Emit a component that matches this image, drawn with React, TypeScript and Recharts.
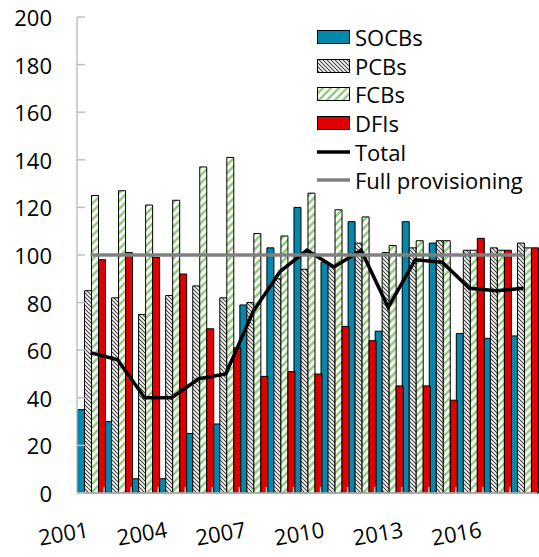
import {
  ComposedChart,
  Bar,
  Line,
  XAxis,
  YAxis,
  Legend,
} from "recharts";

const years = [
  "2001", "2002", "2003", "2004", "2005", "2006", "2007", "2008", "2009",
  "2010", "2011", "2012", "2013", "2014", "2015", "2016", "2017",
];
const socbs = [35, 30, 6, 6, 25, 29, 79, 103, 120, 97, 114, 68, 114, 105, 67, 65, 66];
const pcbs = [85, 82, 75, 83, 87, 82, 80, 90, 94, 95, 105, 101, 103, 106, 102, 103, 105];
const fcbs = [125, 127, 121, 123, 137, 141, 109, 108, 126, 119, 116, 104, 106, 106, 102, 102, 103];
const dfis = [98, 101, 99, 92, 69, 61, 49, 51, 50, 70, 64, 45, 45, 39, 107, 102, 103];
const total = [59, 56, 40, 40, 48, 50, 76, 93, 102, 95, 102, 78, 98, 97, 86, 85, 86];
const fullProvisioning = [100, 100, 100, 100, 100, 100, 100, 100, 100, 100, 100, 100, 100, 100, 100, 100, 100];

const yTicks = [0, 20, 40, 60, 80, 100, 120, 140, 160, 180, 200];
const xLabels = ["2001", "2004", "2007", "2010", "2013", "2016"];

const data = years.map((year, i) => ({
  year,
  socbs: socbs[i],
  pcbs: pcbs[i],
  fcbs: fcbs[i],
  dfis: dfis[i],
  total: total[i],
  full: fullProvisioning[i],
}));

const FONT = "'Open Sans', 'Noto Sans', sans-serif";
const AXIS_GRAY = "#bfbfbf";

const legendItems = [
  { label: "SOCBs", kind: "rect", fill: "#0088ad" },
  { label: "PCBs", kind: "rect", fill: "url(#pcbHatch)" },
  { label: "FCBs", kind: "rect", fill: "url(#fcbHatch)" },
  { label: "DFIs", kind: "rect", fill: "#e00000" },
  { label: "Total", kind: "line", fill: "#000000" },
  { label: "Full provisioning", kind: "line", fill: "#808080" },
];

function renderLegend() {
  return (
    <div style={{ fontFamily: FONT, fontSize: 22, color: "#000" }}>
      {legendItems.map((item) => (
        <div
          key={item.label}
          style={{ display: "flex", alignItems: "center", height: 28.6 }}
        >
          <svg width={36} height={16} style={{ marginRight: 2 }}>
            {item.kind === "rect" ? (
              <rect x={0.5} y={1.5} width={32} height={13} fill={item.fill} stroke="#000" strokeWidth={1} />
            ) : (
              <line x1={0} y1={8} x2={33} y2={8} stroke={item.fill} strokeWidth={3.5} />
            )}
          </svg>
          <span style={{ whiteSpace: "nowrap", lineHeight: 1 }}>{item.label}</span>
        </div>
      ))}
    </div>
  );
}

function YTick(props: any) {
  const { x, y, payload } = props;
  return (
    <g>
      <line x1={x} y1={y} x2={x + 8} y2={y} stroke={AXIS_GRAY} strokeWidth={1.5} />
      <text x={x - 25} y={y} textAnchor="end" dominantBaseline="central" fontSize={22} fontFamily={FONT} fill="#000">
        {payload.value}
      </text>
    </g>
  );
}

function XTick(props: any) {
  const { x, y, payload, index } = props;
  const half = payload.offset ?? 0;
  const showLabel = xLabels.includes(payload.value);
  const lx = x - 1 - 0.85 * index;
  const ly = y + 44;
  return (
    <g>
      {index > 0 && half > 0 ? (
        <line x1={x - half} y1={y} x2={x - half} y2={y - 6} stroke={AXIS_GRAY} strokeWidth={1.5} />
      ) : null}
      {showLabel ? (
        <text
          x={0}
          y={0}
          textAnchor="end"
          fontSize={22}
          fontFamily={FONT}
          fill="#000"
          style={{ transform: `translate(${lx}px, ${ly}px) rotate(-10deg)` }}
        >
          {payload.value}
        </text>
      ) : null}
    </g>
  );
}

export default function App() {
  return (
    <div style={{ position: "absolute", left: 0, top: 0, width: 539, height: 557, background: "#fff" }}>
      <ComposedChart
        width={539}
        height={557}
        data={data}
        margin={{ top: 17, right: 2, left: 0, bottom: 0 }}
        barGap={0}
        barCategoryGap={0.5}
        style={{ fontFamily: FONT }}
      >
        <defs>
          <pattern id="pcbHatch" patternUnits="userSpaceOnUse" width={4} height={4}>
            <rect width={4} height={4} fill="#ffffff" />
            <path d="M-1,-1 L5,5 M-1,3 L1,5 M3,-1 L5,1" stroke="#404040" strokeWidth={1.1} />
          </pattern>
          <pattern id="fcbHatch" patternUnits="userSpaceOnUse" width={8} height={8}>
            <rect width={8} height={8} fill="#ffffff" />
            <path d="M-2,10 L10,-2 M-6,6 L6,-6 M2,14 L14,2" stroke="#93cc80" strokeWidth={2.6} />
          </pattern>
        </defs>

        <XAxis
          dataKey="year"
          interval={0}
          height={64}
          tickSize={0}
          tickMargin={0}
          tickLine={false}
          axisLine={{ stroke: AXIS_GRAY, strokeWidth: 1.5 }}
          tick={(p: any) => <XTick {...p} />}
        />
        <XAxis
          xAxisId="top"
          dataKey="year"
          orientation="top"
          height={0}
          tick={false}
          tickLine={false}
          axisLine={{ stroke: AXIS_GRAY, strokeWidth: 1.5 }}
        />
        <YAxis
          domain={[0, 200]}
          ticks={yTicks}
          width={77}
          tickSize={0}
          tickMargin={0}
          tickLine={false}
          axisLine={{ stroke: AXIS_GRAY, strokeWidth: 1.5 }}
          tick={(p: any) => <YTick {...p} />}
        />
        <YAxis
          yAxisId="right"
          orientation="right"
          domain={[0, 200]}
          width={0}
          tick={false}
          tickLine={false}
          axisLine={{ stroke: AXIS_GRAY, strokeWidth: 1.5 }}
        />

        <Legend
          layout="vertical"
          align="center"
          verticalAlign="middle"
          content={renderLegend}
          wrapperStyle={{ position: "absolute", top: 23, left: 317, width: 222 }}
        />

        <Bar dataKey="socbs" name="SOCBs" fill="#0088ad" stroke="#000" strokeWidth={1} isAnimationActive={false} />
        <Bar dataKey="pcbs" name="PCBs" fill="url(#pcbHatch)" stroke="#000" strokeWidth={1} isAnimationActive={false} />
        <Bar dataKey="fcbs" name="FCBs" fill="url(#fcbHatch)" stroke="#000" strokeWidth={1} isAnimationActive={false} />
        <Bar dataKey="dfis" name="DFIs" fill="#e00000" stroke="#000" strokeWidth={1} isAnimationActive={false} />
        <Line dataKey="total" name="Total" stroke="#000" strokeWidth={3.5} dot={false} activeDot={false} isAnimationActive={false} />
        <Line dataKey="full" name="Full provisioning" stroke="#808080" strokeWidth={3.5} dot={false} activeDot={false} isAnimationActive={false} />
      </ComposedChart>
    </div>
  );
}
